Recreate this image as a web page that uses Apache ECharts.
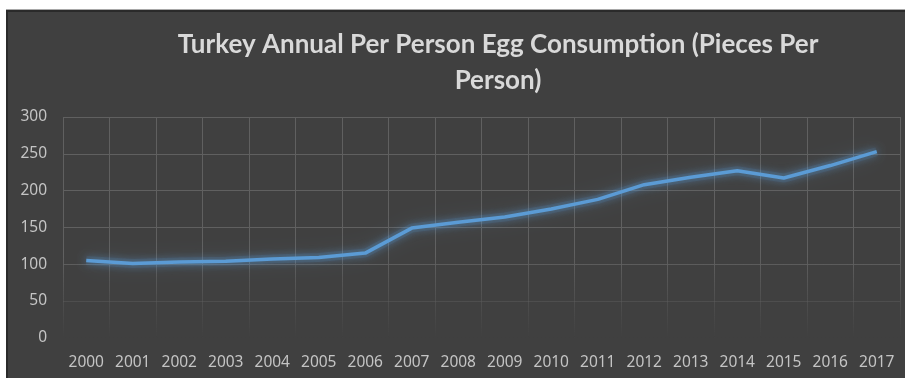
<!DOCTYPE html>
<html>
<head>
<meta charset="utf-8">
<script src="https://cdn.jsdelivr.net/npm/echarts@6/dist/echarts.min.js"></script>
<style>
  html, body { margin: 0; padding: 0; background: #ffffff; }
  #frame {
    position: absolute; left: 6px; top: 10px; width: 897px; height: 366px;
    background: #404040;
    border-left: 2px solid #2a2a2a; border-top: 2px solid #2a2a2a;
    box-shadow: 0 -1px 0 #a8a8a8;
  }
  #chart { position: absolute; left: 0; top: 0; width: 905px; height: 378px; }
</style>
</head>
<body>
<div id="frame"></div>
<div id="chart"></div>
<script>
// Annual per-person egg consumption in Turkey (pieces per person)
const years = ['2000', '2001', '2002', '2003', '2004', '2005', '2006', '2007', '2008',
  '2009', '2010', '2011', '2012', '2013', '2014', '2015', '2016', '2017'];
const eggsPerPerson = [105, 101, 103, 104, 107, 109, 115, 149, 157,
  164, 175, 188, 208, 218, 227, 217, 234, 253];
const yTicks = { min: 0, max: 300, step: 50 };

const titleText = 'Turkey Annual Per Person Egg Consumption (Pieces Per\nPerson)';

// grid lines fade out toward the bottom of the plot
const gridFade = {
  type: 'linear', x: 0, y: 117, x2: 0, y2: 338, global: true,
  colorStops: [
    { offset: 0, color: 'rgba(96,96,96,1)' },
    { offset: 0.62, color: 'rgba(96,96,96,1)' },
    { offset: 1, color: 'rgba(96,96,96,0)' }
  ]
};

const chart = echarts.init(document.getElementById('chart'), null, { renderer: 'canvas' });
chart.setOption({
  backgroundColor: 'transparent',
  animation: false,
  title: {
    text: titleText,
    left: 493, top: 22, textAlign: 'center',
    textStyle: {
      fontFamily: 'Lato', fontWeight: 'bold', fontSize: 26,
      lineHeight: 36, color: '#d9d9d9'
    }
  },
  grid: { left: 63, right: 5, top: 117, bottom: 40.3 },
  xAxis: {
    type: 'category',
    data: years,
    boundaryGap: true,
    axisLine: { show: false },
    axisTick: { show: false },
    axisLabel: { color: '#c4c4c4', fontFamily: 'Noto Sans', fontSize: 15.5, margin: 17 },
    splitLine: { show: true, lineStyle: { color: gridFade, width: 1 } }
  },
  yAxis: {
    type: 'value',
    min: yTicks.min, max: yTicks.max, interval: yTicks.step,
    axisLine: { show: false },
    axisTick: { show: false },
    axisLabel: { color: '#c4c4c4', fontFamily: 'Noto Sans', fontSize: 15.5, margin: 16 },
    splitLine: { show: true, lineStyle: { color: gridFade, width: 1 } }
  },
  series: [
    {
      // soft halo under the line
      type: 'line',
      data: eggsPerPerson,
      symbol: 'none',
      silent: true,
      z: 1,
      lineStyle: {
        color: 'rgba(91,155,213,0.12)', width: 9,
        shadowBlur: 22, shadowColor: 'rgba(91,155,213,0.7)'
      }
    },
    {
      type: 'line',
      data: eggsPerPerson,
      symbol: 'none',
      z: 2,
      lineStyle: {
        color: '#5b9bd5', width: 3.5,
        shadowBlur: 8, shadowColor: 'rgba(91,155,213,0.9)'
      }
    }
  ]
});
</script>
</body>
</html>
